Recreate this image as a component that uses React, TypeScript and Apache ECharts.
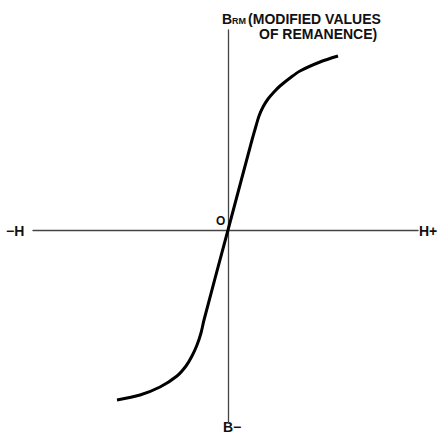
import React, { useEffect, useRef } from "react";
import * as echarts from "echarts";

// Modified remanence curve B_RM vs H (arbitrary units, origin at 0,0)
const hValues = [-111, -88, -68, -51, -42, -36, -31, -27, -24, 0, 24, 28, 31, 35, 40, 46, 52, 62, 72, 92, 110];
const bValues = [-170, -165, -157, -146, -136, -126, -115, -103, -90, 0, 90, 104, 114, 123, 131, 138, 144, 152, 159, 168, 174];

const axisLabels = {
  left: "\u2212H",
  right: "H+",
  bottom: "B\u2212",
  origin: "O",
};

const FONT = "'Liberation Sans', Arial, sans-serif";

export default function App() {
  const ref = useRef<HTMLDivElement>(null);
  useEffect(() => {
    if (!ref.current) return;
    const chart = echarts.init(ref.current, undefined, { renderer: "svg" });
    const data = hValues.map((h, i) => [h, bValues[i]]);
    const textStyle = (t: string, x: number, y: number, align = "left") => ({
      type: "text",
      x,
      y,
      style: {
        text: t,
        fill: "#111",
        font: `bold 14px ${FONT}`,
        lineHeight: 14,
        textAlign: align,
        textVerticalAlign: "middle",
      },
    });
    chart.setOption({
      animation: false,
      backgroundColor: "#fff",
      grid: { left: 33, right: 24, top: 30, bottom: 13 },
      xAxis: {
        type: "value",
        min: -195,
        max: 190,
        axisLine: { onZero: true, lineStyle: { color: "#444", width: 1.3 } },
        axisTick: { show: false },
        axisLabel: { show: false },
        splitLine: { show: false },
      },
      yAxis: {
        type: "value",
        min: -193,
        max: 200,
        axisLine: { onZero: true, lineStyle: { color: "#444", width: 1.3 } },
        axisTick: { show: false },
        axisLabel: { show: false },
        splitLine: { show: false },
      },
      series: [
        {
          type: "line",
          data,
          smooth: 0.3,
          symbol: "none",
          lineStyle: { color: "#000", width: 3 },
        },
      ],
      graphic: [
        textStyle(axisLabels.left, 6, 231),
        textStyle(axisLabels.right, 419, 231),
        textStyle(axisLabels.bottom, 223, 427),
        {
          type: "text",
          x: 216,
          y: 221,
          style: {
            text: axisLabels.origin,
            fill: "#111",
            font: `bold 12px ${FONT}`,
            textVerticalAlign: "middle",
          },
        },
        {
          type: "text",
          x: 222,
          y: 19,
          style: {
            text: "{b|B}{s|RM}{t|(MODIFIED VALUES}",
            textVerticalAlign: "middle",
            rich: {
              b: { font: `bold 14px ${FONT}`, fill: "#111", lineHeight: 14 },
              s: { font: `bold 9px ${FONT}`, fill: "#111", padding: [4, 2, 0, 0], lineHeight: 12 },
              t: { font: `bold 14px ${FONT}`, fill: "#111", lineHeight: 14 },
            },
          },
        },
        textStyle("OF REMANENCE)", 259, 34),
      ],
    });
    return () => chart.dispose();
  }, []);
  return <div ref={ref} style={{ width: 442, height: 436, position: "absolute", left: 0, top: 0 }} />;
}
